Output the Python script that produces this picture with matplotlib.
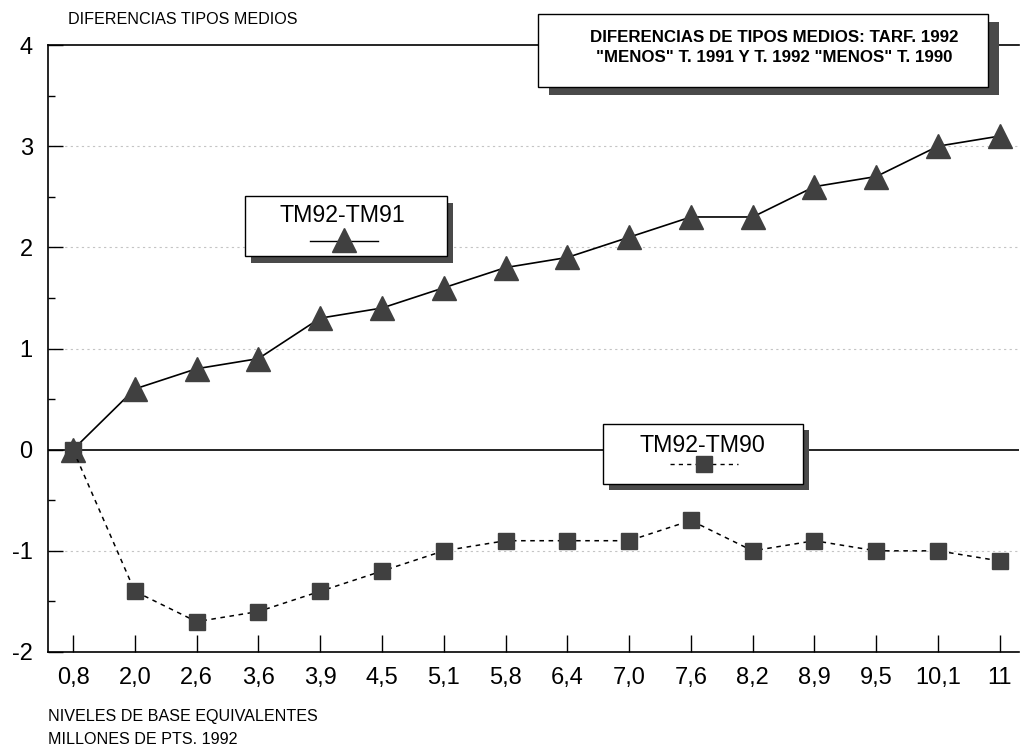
import matplotlib
matplotlib.use("Agg")
import matplotlib.pyplot as plt
from matplotlib.patches import Rectangle
from matplotlib.lines import Line2D
import numpy as np

plt.rcParams['font.family'] = ['Liberation Sans', 'DejaVu Sans']

categories = ["0,8", "2,0", "2,6", "3,6", "3,9", "4,5", "5,1", "5,8",
              "6,4", "7,0", "7,6", "8,2", "8,9", "9,5", "10,1", "11"]
tm92_tm91 = [0, 0.6, 0.8, 0.9, 1.3, 1.4, 1.6, 1.8, 1.9, 2.1, 2.3, 2.3, 2.6, 2.7, 3.0, 3.1]
tm92_tm90 = [0, -1.4, -1.7, -1.6, -1.4, -1.2, -1.0, -0.9, -0.9, -0.9, -0.7, -1.0, -0.9, -1.0, -1.0, -1.1]
yticks = [-2, -1, 0, 1, 2, 3, 4]

W, H = 1021, 748
fig = plt.figure(figsize=(W / 100, H / 100), dpi=100)

def fx(x):
    return x / W

def fy(y):
    return 1 - y / H

ax_l, ax_r, ax_t, ax_b = 48, 1019, 45, 652
ax = fig.add_axes([fx(ax_l), fy(ax_b), fx(ax_r - ax_l), (ax_b - ax_t) / H])

x = np.arange(len(categories))
mark_col = '#404040'
ax.plot(x, tm92_tm91, color='black', lw=1.2, marker='^', markersize=17,
        markerfacecolor=mark_col, markeredgecolor=mark_col, zorder=4)
ax.plot(x, tm92_tm90, color='black', lw=1.1, ls=(0, (3, 3)), marker='s', markersize=12,
        markerfacecolor=mark_col, markeredgecolor=mark_col, zorder=4)

ax.set_xlim(-0.405, 15.31)
ax.set_ylim(-2, 4)
ax.set_xticks(x)
ax.set_xticklabels(categories, fontsize=17)
ax.set_yticks(yticks)
ax.set_yticklabels([str(v) for v in yticks], fontsize=17)
ax.set_yticks(np.arange(-1.5, 4, 1.0), minor=True)
ax.tick_params(axis='x', direction='in', length=12, width=1, pad=11)
ax.tick_params(axis='y', which='major', direction='in', length=11, width=1, pad=11)
ax.tick_params(axis='y', which='minor', direction='in', length=5, width=1)
ax.spines['right'].set_visible(False)
for s in ['top', 'left', 'bottom']:
    ax.spines[s].set_linewidth(1.2)

for v in [-1, 1, 2, 3]:
    ax.axhline(v, color='#c4c4c4', lw=0.8, ls=(0, (2, 3)), zorder=1)
ax.axhline(0, color='black', lw=1.2, zorder=2)

fig.text(fx(68), fy(20), "DIFERENCIAS TIPOS MEDIOS", fontsize=11.6, va='center', ha='left')
fig.text(fx(48), fy(716), "NIVELES DE BASE EQUIVALENTES", fontsize=11.6, va='center', ha='left')
fig.text(fx(48), fy(740), "MILLONES DE PTS. 1992", fontsize=11.6, va='center', ha='left')

def shadow_box(x0, y0, x1, y1, dx, dy):
    fig.add_artist(Rectangle((fx(x0 + dx), fy(y1 + dy)), fx(x1 - x0), (y1 - y0) / H,
                             transform=fig.transFigure, facecolor='#4a4a4a',
                             edgecolor='none', zorder=10))
    fig.add_artist(Rectangle((fx(x0), fy(y1)), fx(x1 - x0), (y1 - y0) / H,
                             transform=fig.transFigure, facecolor='white',
                             edgecolor='black', lw=1.0, zorder=11))

# title box
shadow_box(538, 14, 988, 87, 11, 8)
fig.text(fx(774), fy(37), "DIFERENCIAS DE TIPOS MEDIOS: TARF. 1992", fontsize=12.2,
         fontweight='bold', ha='center', va='center', zorder=12)
fig.text(fx(774), fy(58), "\"MENOS\" T. 1991 Y T. 1992 \"MENOS\" T. 1990", fontsize=12.2,
         fontweight='bold', ha='center', va='center', zorder=12)

# legend 1
shadow_box(245, 196, 447, 256, 6, 7)
fig.text(fx(342), fy(215), "TM92-TM91", fontsize=16.7, ha='center', va='center', zorder=12)
fig.add_artist(Line2D([fx(310), fx(378)], [fy(241), fy(241)], transform=fig.transFigure,
                      color='black', lw=1.0, zorder=12))
fig.add_artist(Line2D([fx(344)], [fy(240)], transform=fig.transFigure, marker='^',
                      markersize=17, color=mark_col, zorder=13))

# legend 2
shadow_box(603, 424, 803, 484, 6, 6)
fig.text(fx(702), fy(445), "TM92-TM90", fontsize=16.7, ha='center', va='center', zorder=12)
fig.add_artist(Line2D([fx(670), fx(738)], [fy(464), fy(464)], transform=fig.transFigure,
                      color='black', lw=1.0, ls=(0, (3, 3)), zorder=12))
fig.add_artist(Line2D([fx(704)], [fy(464)], transform=fig.transFigure, marker='s',
                      markersize=12, color=mark_col, zorder=13))

fig.savefig("out.png", dpi=100, facecolor='white')
